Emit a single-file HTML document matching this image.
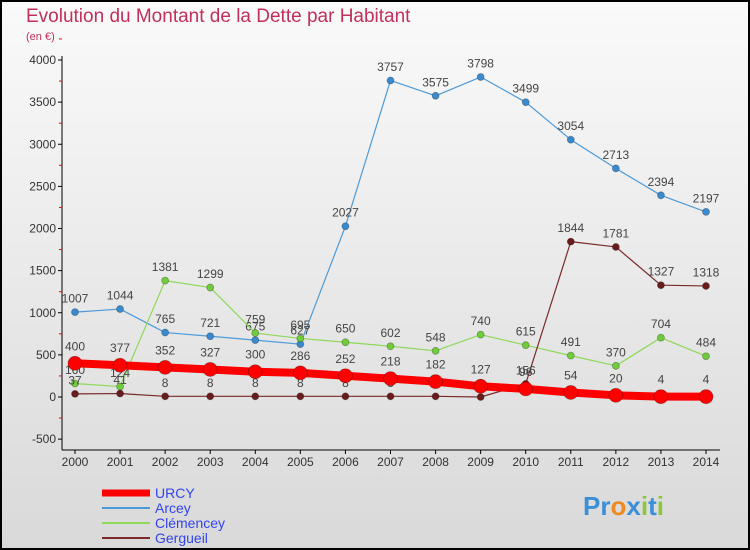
<!DOCTYPE html>
<html><head><meta charset="utf-8"><style>
body{margin:0;background:#fff}
svg{display:block;font-family:"Liberation Sans","DejaVu Sans",sans-serif}
</style></head><body>
<svg width="750" height="550">
<defs><linearGradient id="bg" x1="0" y1="0" x2="0" y2="1"><stop offset="0" stop-color="#fafafa"/><stop offset="1" stop-color="#d9d9d9"/></linearGradient></defs>
<rect x="1" y="1" width="748" height="548" fill="url(#bg)" stroke="#000" stroke-width="2"/>
<text x="26" y="22" font-size="19" fill="#c0305a">Evolution du Montant de la Dette par Habitant</text>
<text x="26" y="40" font-size="11" fill="#c0305a">(en €)</text>
<g id="axes"></g><g id="series"></g>
<g>
<line x1="102" y1="493" x2="150" y2="493" stroke="#f00" stroke-width="7"/>
<text x="155" y="498" font-size="14" fill="#3344ee">URCY</text>
<line x1="102" y1="508" x2="150" y2="508" stroke="#4d9ad8" stroke-width="2"/>
<text x="155" y="513" font-size="14" fill="#3344ee">Arcey</text>
<line x1="102" y1="523" x2="150" y2="523" stroke="#8ed85a" stroke-width="2"/>
<text x="155" y="528" font-size="14" fill="#3344ee">Clémencey</text>
<line x1="102" y1="538" x2="150" y2="538" stroke="#7a2a2a" stroke-width="2"/>
<text x="155" y="543" font-size="14" fill="#3344ee">Gergueil</text>
</g>
<text x="583" y="515" font-size="26" font-weight="bold"><tspan fill="#3a8fd8">Pr</tspan><tspan fill="#f08a20">o</tspan><tspan fill="#3a8fd8">x</tspan><tspan fill="#8cc83c">i</tspan><tspan fill="#3a8fd8">t</tspan><tspan fill="#8cc83c">i</tspan></text>
</svg>
<script>
const years=[2000,2001,2002,2003,2004,2005,2006,2007,2008,2009,2010,2011,2012,2013,2014];
const yTicks=[-500,0,500,1000,1500,2000,2500,3000,3500,4000];
const urcy=[400,377,352,327,300,286,252,218,182,127,96,54,20,4,4];
const arcey=[1007,1044,765,721,675,627,2027,3757,3575,3798,3499,3054,2713,2394,2197];
const clemencey=[160,124,1381,1299,759,695,650,602,548,740,615,491,370,704,484];
const gergueil=[37,41,8,8,8,8,8,8,8,0,156,1844,1781,1327,1318];
const NS="http://www.w3.org/2000/svg";
const xs=i=>75+i*(706-75)/14;
const ys=v=>397-v*0.08425;
function mk(t,a,p){const e=document.createElementNS(NS,t);for(const k in a)e.setAttribute(k,a[k]);p.appendChild(e);return e;}
const ax=document.getElementById('axes');
const axl=mk('line',{x1:62,y1:56,x2:62,y2:450,stroke:'#000','stroke-width':1},ax);


const bx=mk('line',{x1:62,y1:450,x2:720,y2:450,stroke:'#000','stroke-width':1},ax);


yTicks.forEach(v=>{
 mk('line',{x1:58,x2:62,y1:ys(v),y2:ys(v),stroke:'#000'},ax);
 mk('line',{x1:59,x2:62,y1:ys(v+250),y2:ys(v+250),stroke:'#f00'},ax);
 const t=mk('text',{x:56,y:ys(v)+4,'font-size':12,'text-anchor':'end',fill:'#333'},ax);
 t.textContent=v;
 
 
});
years.forEach((y,i)=>{
 mk('line',{x1:xs(i),x2:xs(i),y1:450,y2:454,stroke:'#000'},ax);
 const t=mk('text',{x:xs(i),y:466,'font-size':12,'text-anchor':'middle',fill:'#333'},ax);
 t.textContent=y;
 
 
});
const sg=document.getElementById('series');
function draw(name,vals,color,w,r,dot){
 const g=mk('g',{},sg);
 
 
 const l=mk('polyline',{points:vals.map((v,i)=>xs(i)+','+ys(v)).join(' '),fill:'none',stroke:color,'stroke-width':w,'stroke-linejoin':'round'},g);
 
 
 vals.forEach((v,i)=>{
  const c=mk('circle',{cx:xs(i),cy:ys(v),r:r,fill:dot,stroke:'rgba(0,0,0,0.3)','stroke-width':0.8},g);
  
  
  const t=mk('text',{x:xs(i),y:ys(v)-(r+6),'font-size':12,'text-anchor':'middle',fill:'#444'},g);
  t.textContent=v;
  
  
 });
}
draw('arcey',arcey,'#4d9ad8',1.2,3.5,'#3a8ad0');
draw('clemencey',clemencey,'#8ed85a',1.2,3.5,'#70cc3a');
draw('gergueil',gergueil,'#7a2a2a',1.2,3.5,'#6a1c1c');
draw('urcy',urcy,'#f00',8,7,'#f00');
</script>
</body></html>
